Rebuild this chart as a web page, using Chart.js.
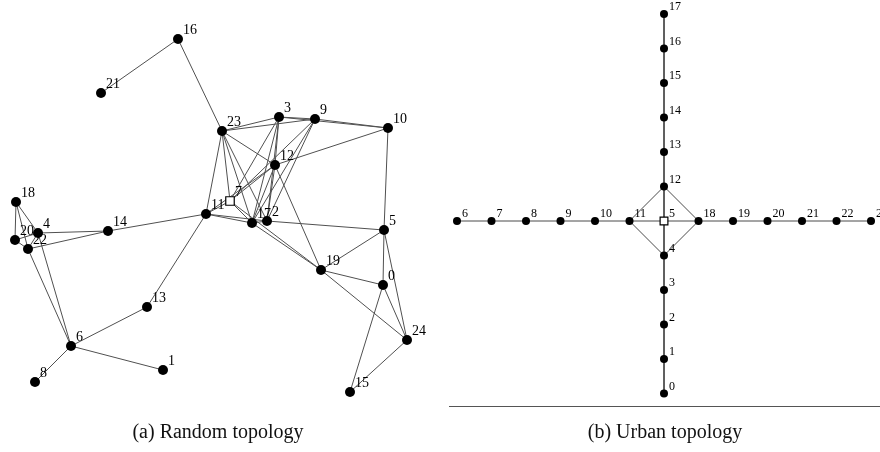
<!DOCTYPE html>
<html>
<head>
<meta charset="utf-8">
<script src="https://cdn.jsdelivr.net/npm/chart.js@4"></script>
<style>
  html, body { margin: 0; padding: 0; background: #fff; }
  #wrap { position: relative; width: 880px; height: 452px; overflow: hidden; }
  .panel { position: absolute; top: 0; width: 440px; height: 452px; }
  #randomPanel { left: 0; }
  #urbanPanel { left: 440px; }
</style>
</head>
<body>
<div id="wrap">
  <div class="panel" id="randomPanel"><canvas id="randomChart" width="440" height="452"></canvas></div>
  <div class="panel" id="urbanPanel"><canvas id="urbanChart" width="440" height="452"></canvas></div>
</div>
<script>
// ── (a) Random topology: node ids and their layout positions ──
const randomIds = [0, 1, 2, 3, 4, 5, 6, 7, 8, 9, 10, 11, 12, 13, 14, 15, 16, 17, 18, 19, 20, 21, 22, 23, 24];
const randomX   = [383, 163, 267, 279, 38, 384, 71, 230, 35, 315, 388, 206, 275, 147, 108, 350, 178, 252, 16, 321, 15, 101, 28, 222, 407];
const randomY   = [285, 370, 221, 117, 233, 230, 346, 201, 382, 119, 128, 214, 165, 307, 231, 392, 39, 223, 202, 270, 240, 93, 249, 131, 340];
const randomSink = [7];

// links [from, to]
const randomLinks = [
  [16, 21], [16, 23], [23, 11], [23, 3], [23, 9], [23, 7], [23, 17], [23, 2], [23, 12],
  [3, 9], [3, 10], [9, 10], [3, 7], [3, 17], [3, 2], [3, 12],
  [9, 7], [9, 17], [9, 2], [10, 12], [10, 5],
  [12, 7], [12, 17], [12, 2], [12, 19], [11, 12],
  [11, 7], [11, 17], [11, 2], [11, 14], [11, 13],
  [7, 17], [7, 19], [17, 2], [17, 19], [2, 5],
  [5, 19], [5, 0], [5, 24], [19, 0], [19, 24], [0, 24], [0, 15], [24, 15],
  [18, 20], [18, 4], [18, 22], [20, 4], [20, 22], [4, 22],
  [4, 14], [22, 14], [4, 6], [22, 6], [6, 8], [6, 13], [6, 1]
];

// ── (b) Urban topology: grid positions (column, row) around the sink ──
const urbanIds = [0, 1, 2, 3, 4, 5, 6, 7, 8, 9, 10, 11, 12, 13, 14, 15, 16, 17, 18, 19, 20, 21, 22, 23];
const urbanCol = [0, 0, 0, 0, 0, 0, -6, -5, -4, -3, -2, -1, 0, 0, 0, 0, 0, 0, 1, 2, 3, 4, 5, 6];
const urbanRow = [-5, -4, -3, -2, -1, 0, 0, 0, 0, 0, 0, 0, 1, 2, 3, 4, 5, 6, 0, 0, 0, 0, 0, 0];
const urbanSink = [5];

const urbanLinks = [
  [6, 7], [7, 8], [8, 9], [9, 10], [10, 11], [11, 5], [5, 18],
  [18, 19], [19, 20], [20, 21], [21, 22], [22, 23],
  [17, 16], [16, 15], [15, 14], [14, 13], [13, 12], [12, 5],
  [5, 4], [4, 3], [3, 2], [2, 1], [1, 0],
  [11, 12], [12, 18], [18, 4], [4, 11]
];

const captions = ['(a) Random topology', '(b) Urban topology'];

/* ── helpers ─────────────────────────────────────────── */

function nodePoints(ids, xs, ys) {
  return ids.map((id, i) => ({ x: xs[i], y: ys[i], id }));
}

function linkDatasets(links, ids, xs, ys, color) {
  return links.map(([a, b]) => {
    const ia = ids.indexOf(a), ib = ids.indexOf(b);
    return {
      data: [{ x: xs[ia], y: ys[ia] }, { x: xs[ib], y: ys[ib] }],
      showLine: true,
      borderColor: color,
      borderWidth: 1,
      pointRadius: 0,
      clip: false,
      order: 2,
    };
  });
}

// Draws node labels, caption and the optional baseline rule
const graphDecor = {
  id: 'graphDecor',
  afterDatasetsDraw(chart, args, opts) {
    const ctx = chart.ctx;
    const meta = chart.getDatasetMeta(0);
    const pts = chart.data.datasets[0].data;
    ctx.save();
    ctx.fillStyle = '#000';
    ctx.font = opts.labelFont;
    ctx.textBaseline = 'alphabetic';
    ctx.textAlign = 'left';
    meta.data.forEach((el, i) => {
      ctx.fillText(String(pts[i].id), el.x + opts.labelDx, el.y + opts.labelDy);
    });
    if (opts.rule) {
      ctx.strokeStyle = '#555';
      ctx.lineWidth = 1;
      ctx.beginPath();
      ctx.moveTo(opts.rule[0], opts.rule[2] + 0.5);
      ctx.lineTo(opts.rule[1], opts.rule[2] + 0.5);
      ctx.stroke();
    }
    ctx.font = '20px "Liberation Serif", "DejaVu Serif", serif';
    ctx.textAlign = 'center';
    ctx.fillStyle = '#111';
    ctx.fillText(opts.caption, opts.captionX, 438);
    ctx.restore();
  }
};

function makeGraph(canvasId, nodes, sinks, links, xRange, yRange, decor, sizes) {
  const nodeSet = {
    data: nodes,
    showLine: false,
    pointStyle: c => sinks.includes(nodes[c.dataIndex].id) ? 'rect' : 'circle',
    pointRadius: c => sinks.includes(nodes[c.dataIndex].id) ? sizes.square : sizes.dot,
    pointBackgroundColor: c => sinks.includes(nodes[c.dataIndex].id) ? '#fff' : '#000',
    pointBorderColor: '#000',
    pointBorderWidth: c => sinks.includes(nodes[c.dataIndex].id) ? 1.2 : 0,
    clip: false,
    order: 0,
  };
  return new Chart(document.getElementById(canvasId), {
    type: 'scatter',
    data: { datasets: [nodeSet].concat(links) },
    options: {
      responsive: false,
      animation: false,
      layout: { autoPadding: false, padding: { left: 0, right: 0, top: 0, bottom: 42 } },
      plugins: {
        legend: { display: false },
        tooltip: { enabled: false },
        graphDecor: decor,
      },
      scales: {
        x: { type: 'linear', display: false, min: xRange[0], max: xRange[1] },
        y: { type: 'linear', display: false, min: yRange[0], max: yRange[1], reverse: yRange[2] },
      },
    },
    plugins: [graphDecor],
  });
}

/* ── (a) ─────────────────────────────────────────────── */
makeGraph(
  'randomChart',
  nodePoints(randomIds, randomX, randomY),
  randomSink,
  linkDatasets(randomLinks, randomIds, randomX, randomY, '#505050'),
  [0, 440], [0, 410, true],
  { labelFont: '14px "Liberation Serif", serif', labelDx: 5, labelDy: -5, caption: captions[0], captionX: 218 },
  { dot: 5, square: 6 }
);

/* ── (b) ─────────────────────────────────────────────── */
const gridStep = 34.5;
makeGraph(
  'urbanChart',
  nodePoints(urbanIds, urbanCol, urbanRow),
  urbanSink,
  linkDatasets(urbanLinks, urbanIds, urbanCol, urbanRow, '#4a4a4a'),
  [-224 / gridStep, 216 / gridStep], [-189 / gridStep, 221 / gridStep, false],
  { labelFont: '12px "Liberation Serif", serif', labelDx: 5, labelDy: -4, caption: captions[1], captionX: 225, rule: [9, 440, 406] },
  { dot: 4, square: 5.5 }
);
</script>
</body>
</html>
